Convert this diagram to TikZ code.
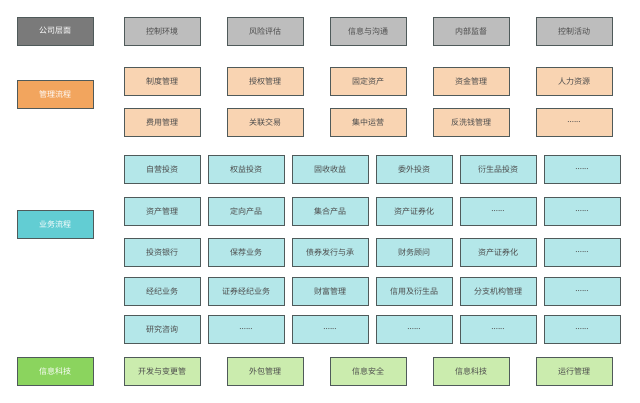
\documentclass[tikz,border=0pt]{standalone}
\usepackage{fontspec}
\newfontfamily\cjk{Noto Sans CJK SC}
\newcommand\dd{......}
\definecolor{gD}{HTML}{7A7A7A}\definecolor{gL}{HTML}{BDBDBD}
\definecolor{oD}{HTML}{F2A55E}\definecolor{oL}{HTML}{F9D4B2}
\definecolor{tD}{HTML}{62CDD3}\definecolor{tL}{HTML}{B4E7E9}
\definecolor{nD}{HTML}{8BD45E}\definecolor{nL}{HTML}{CBECAE}
\definecolor{bd}{HTML}{4F5A5A}
\tikzset{box/.style={draw=bd,line width=0.9pt,minimum width=76pt,minimum height=28pt,inner sep=0pt,font=\cjk\fontsize{8}{9}\selectfont,text=black!70},
lbl/.style={box,text=white}}
\begin{document}
\begin{tikzpicture}[x=1pt,y=-1pt]
\useasboundingbox[fill=white] (0,0) rectangle (640,403);
\node[lbl,fill=gD] (L1) at (55,31) {公司层面};
\node[lbl,fill=oD] (L2) at (55,94) {管理流程};
\node[lbl,fill=tD] (L3) at (55,224) {业务流程};
\node[lbl,fill=nD] (L4) at (55,371) {信息科技};
\foreach \t [count=\i] in {控制环境,风险评估,信息与沟通,内部监督,控制活动}
  \node[box,fill=gL] (a\i) at (162+103*\i-103,31) {\t};
\foreach \t [count=\i] in {制度管理,授权管理,固定资产,资金管理,人力资源}
  \node[box,fill=oL] (b\i) at (162+103*\i-103,81) {\t};
\foreach \t [count=\i] in {费用管理,关联交易,集中运营,反洗钱管理,\dd}
  \node[box,fill=oL] (c\i) at (162+103*\i-103,122) {\t};
\foreach \t [count=\i] in {自营投资,权益投资,固收收益,委外投资,衍生品投资,\dd}
  \node[box,fill=tL] (d\i) at (162+84*\i-84,169) {\t};
\foreach \t [count=\i] in {资产管理,定向产品,集合产品,资产证券化,\dd,\dd}
  \node[box,fill=tL] (e\i) at (162+84*\i-84,211) {\t};
\foreach \t [count=\i] in {投资银行,保荐业务,债券发行与承,财务顾问,资产证券化,\dd}
  \node[box,fill=tL] (f\i) at (162+84*\i-84,252) {\t};
\foreach \t [count=\i] in {经纪业务,证券经纪业务,财富管理,信用及衍生品,分支机构管理,\dd}
  \node[box,fill=tL] (g\i) at (162+84*\i-84,291) {\t};
\foreach \t [count=\i] in {研究咨询,\dd,\dd,\dd,\dd,\dd}
  \node[box,fill=tL] (h\i) at (162+84*\i-84,329) {\t};
\foreach \t [count=\i] in {开发与变更管,外包管理,信息安全,信息科技,运行管理}
  \node[box,fill=nL] (k\i) at (162+103*\i-103,371) {\t};
\end{tikzpicture}
\end{document}
